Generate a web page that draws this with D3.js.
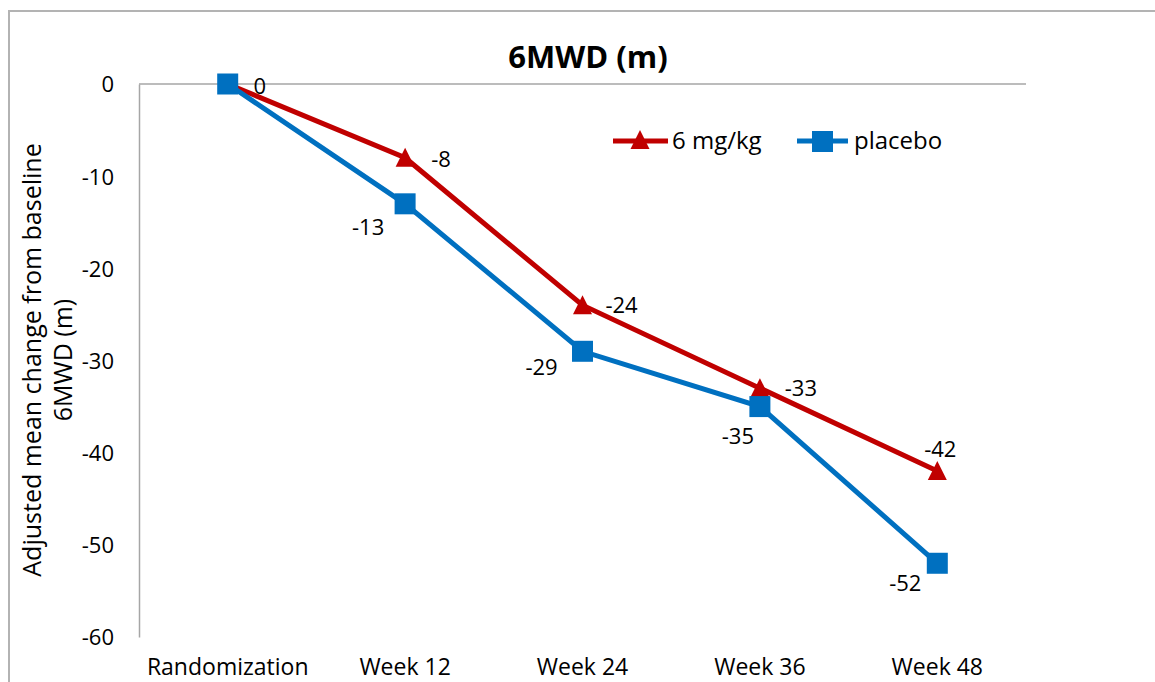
<!DOCTYPE html>
<html><head><meta charset="utf-8">
<script src="https://cdn.jsdelivr.net/npm/d3@7"></script>
<style>body{margin:0;background:#fff}svg{display:block}text{font-family:"Open Sans","Lato",sans-serif}</style>
</head><body>
<svg id="c" width="1155" height="682"></svg>
<script>
const categories = ["Randomization","Week 12","Week 24","Week 36","Week 48"];
const dose = [0,-8,-24,-33,-42];
const placebo = [0,-13,-29,-35,-52];
const yTicks = [0,-10,-20,-30,-40,-50,-60];
const seriesNames = ["6 mg/kg","placebo"];

const svg = d3.select("#c");
const red = "#C00000", blue = "#0070C0";
const pLeft = 139, pRight = 1026, pTop = 84, pBottom = 637;
const fs = 22;

svg.append("rect").attr("x",9).attr("y",11).attr("width",1200).attr("height",700)
  .attr("fill","none").attr("stroke","#b3b3b3").attr("stroke-width",2);

const x = d3.scaleBand().domain(categories).range([pLeft,pRight]);
const y = d3.scaleLinear().domain([-60,0]).range([pBottom,pTop]);
const cx = c => x(c)+x.bandwidth()/2;

// y axis
const ya = svg.append("g").attr("transform",`translate(${pLeft},0)`)
  .call(d3.axisLeft(y).tickValues(yTicks).tickSize(0).tickPadding(25).tickFormat(d=>String(d)));
ya.select(".domain").attr("stroke","#a6a6a6").attr("stroke-width",1.5);
ya.selectAll("text").attr("font-size",fs).attr("fill","#000").attr("dy","0.36em").attr("font-family",null);

// zero line (category axis)
svg.append("line").attr("x1",pLeft).attr("x2",pRight).attr("y1",y(0)).attr("y2",y(0))
  .attr("stroke","#a6a6a6").attr("stroke-width",1.5);

// category labels
svg.append("g").selectAll("text").data(categories).join("text")
  .attr("x",d=>cx(d)).attr("y",675).attr("text-anchor","middle")
  .attr("font-size",23).text(d=>d);

// title
svg.append("text").attr("x",588).attr("y",68).attr("text-anchor","middle")
  .attr("font-size",31).attr("font-weight","bold").text("6MWD (m)");

// y title
const yt = svg.append("text").attr("transform","translate(41,360) rotate(-90)")
  .attr("text-anchor","middle").attr("font-size",25);
yt.append("tspan").attr("x",0).attr("dy",0).text("Adjusted mean change from baseline");
yt.append("tspan").attr("x",0).attr("dy",31).text("6MWD (m)");

const line = d3.line().x((d,i)=>cx(categories[i])).y(d=>y(d));
const triType = {draw(ctx){ ctx.moveTo(0,-10); ctx.lineTo(9.5,9); ctx.lineTo(-9.5,9); ctx.closePath(); }};
const tri = d3.symbol().type(triType);

// dose series
svg.append("path").datum(dose).attr("d",line).attr("fill","none").attr("stroke",red).attr("stroke-width",5);
svg.append("g").selectAll("path").data(dose).join("path")
  .attr("d",tri).attr("fill",red)
  .attr("transform",(d,i)=>`translate(${cx(categories[i])},${y(d)})`);

// placebo series
svg.append("path").datum(placebo).attr("d",line).attr("fill","none").attr("stroke",blue).attr("stroke-width",5);
svg.append("g").selectAll("rect").data(placebo).join("rect")
  .attr("x",(d,i)=>cx(categories[i])-10.5).attr("y",d=>y(d)-10.5)
  .attr("width",21).attr("height",21).attr("fill",blue);

// labels
const doseOff = [[32,10],[36,9],[39,8],[41,8],[3,-14]];
const placOff = [[-37,31],[-37,31],[-41,24],[-22,37],[-32,28]];
svg.append("g").selectAll("text").data(dose).join("text")
  .attr("x",(d,i)=>cx(categories[i])+doseOff[i][0]).attr("y",(d,i)=>y(d)+doseOff[i][1])
  .attr("text-anchor","middle").attr("font-size",fs).text(d=>d);
svg.append("g").selectAll("text").data(placebo.slice(1)).join("text")
  .attr("x",(d,i)=>cx(categories[i+1])+placOff[i+1][0]).attr("y",(d,i)=>y(d)+placOff[i+1][1])
  .attr("text-anchor","middle").attr("font-size",fs).text(d=>d);

// legend
const lg = svg.append("g");
lg.append("line").attr("x1",613).attr("x2",668).attr("y1",141).attr("y2",141).attr("stroke",red).attr("stroke-width",5);
lg.append("path").attr("d",tri).attr("fill",red).attr("transform","translate(640,140)");
lg.append("text").attr("x",672).attr("y",149).attr("font-size",24).text(seriesNames[0]);
lg.append("line").attr("x1",797).attr("x2",848).attr("y1",141).attr("y2",141).attr("stroke",blue).attr("stroke-width",5);
lg.append("rect").attr("x",812).attr("y",131).attr("width",21).attr("height",21).attr("fill",blue);
lg.append("text").attr("x",854).attr("y",149).attr("font-size",24).text(seriesNames[1]);
</script>
</body></html>
